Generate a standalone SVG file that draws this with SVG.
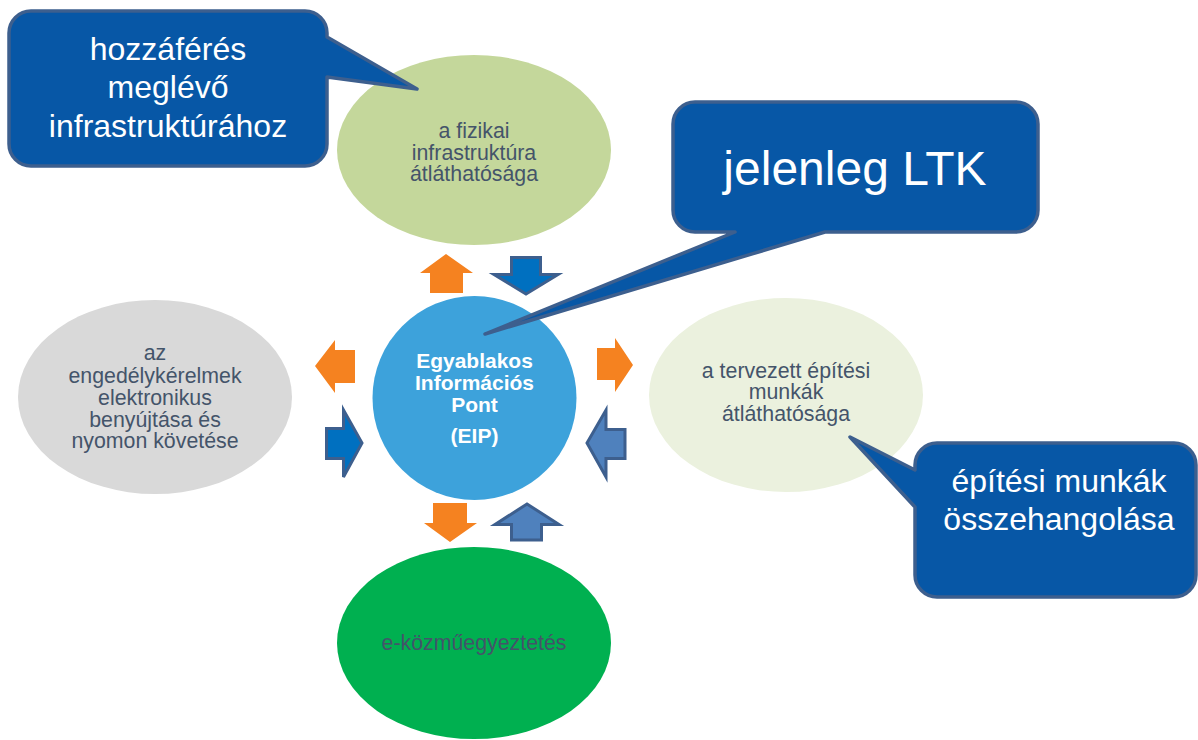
<svg xmlns="http://www.w3.org/2000/svg" width="1198" height="740" viewBox="0 0 1198 740">
  <style>
    text { font-family: "Liberation Sans", Arial, sans-serif; text-anchor: middle; }
    .etxt { font-size: 21.33px; fill: #44546A; }
    .ctxt { font-size: 21px; font-weight: bold; fill: #FFFFFF; }
    .btxt { font-size: 32px; fill: #FFFFFF; }
    .callout { fill: #0757A6; stroke: #3D5F8E; stroke-width: 3.5; stroke-linejoin: round; }
    .orange { fill: #F58220; }
    .dblue { fill: #0070C0; stroke: #3D5F8E; stroke-width: 3; stroke-linejoin: miter; }
    .lblue { fill: #4F81BD; stroke: #3D5F8E; stroke-width: 3; stroke-linejoin: miter; }
  </style>
  <rect width="1198" height="740" fill="#FFFFFF"/>

  <g id="node-top">
    <ellipse cx="474" cy="150" rx="137" ry="95" fill="#C4D79B"/>
    <text class="etxt" x="474" y="138">a fizikai</text>
    <text class="etxt" x="474" y="160">infrastruktúra</text>
    <text class="etxt" x="474" y="181">átláthatósága</text>
  </g>

  <g id="node-left">
    <ellipse cx="155" cy="397" rx="137" ry="97" fill="#D9D9D9"/>
    <text class="etxt" x="155" y="360">az</text>
    <text class="etxt" x="155" y="383">engedélykérelmek</text>
    <text class="etxt" x="155" y="405">elektronikus</text>
    <text class="etxt" x="155" y="427">benyújtása és</text>
    <text class="etxt" x="155" y="448">nyomon követése</text>
  </g>

  <g id="node-right">
    <ellipse cx="786" cy="395" rx="137" ry="97" fill="#EBF1DE"/>
    <text class="etxt" x="786" y="378">a tervezett építési</text>
    <text class="etxt" x="786" y="399">munkák</text>
    <text class="etxt" x="786" y="421">átláthatósága</text>
  </g>

  <g id="node-bottom">
    <ellipse cx="474" cy="643" rx="137" ry="96" fill="#00B050"/>
    <text class="etxt" x="474" y="650">e-közműegyeztetés</text>
  </g>

  <g id="connectors">
    <polygon class="orange" points="446,254 473,273 463,273 463,293 430,293 430,273 420,273"/>
    <polygon class="dblue" points="511.5,257.5 540.5,257.5 540.5,274.5 558,274.5 526,294 494,274.5 511.5,274.5"/>
    <polygon class="orange" points="315,366 335,340 335,350 355,350 355,383 335,383 335,393"/>
    <polygon class="dblue" points="326.5,428.5 343.5,428.5 343.5,410 362,443 343.5,477 343.5,458.5 326.5,458.5"/>
    <polygon class="orange" points="633,365 615,338 615,348 597,348 597,380 615,380 615,392"/>
    <polygon class="lblue" points="587,443 606,410 606,429.5 625,429.5 625,458.5 606,458.5 606,477"/>
    <polygon class="orange" points="433,503 467,503 467,523 477,523 450,542 424,523 433,523"/>
    <polygon class="lblue" points="527,504 559,524.5 541.5,524.5 541.5,540 511.5,540 511.5,524.5 495,524.5"/>
  </g>

  <g id="node-center">
    <circle cx="474.5" cy="398" r="102" fill="#3DA2DB"/>
    <text class="ctxt" x="474.5" y="368">Egyablakos</text>
    <text class="ctxt" x="474.5" y="390">Információs</text>
    <text class="ctxt" x="474.5" y="412">Pont</text>
    <text class="ctxt" x="474.5" y="443">(EIP)</text>
  </g>

  <g id="callout-access">
    <path class="callout" d="M31,11 H305 A22,22 0 0 1 327,33 V37 L417,89 L327,77 V144 A22,22 0 0 1 305,166 H31 A22,22 0 0 1 9,144 V33 A22,22 0 0 1 31,11 Z"/>
    <text class="btxt" x="168" y="60">hozzáférés</text>
    <text class="btxt" x="168" y="98">meglévő</text>
    <text class="btxt" x="168" y="137">infrastruktúrához</text>
  </g>

  <g id="callout-ltk">
    <path class="callout" d="M695,102 H1016 A22,22 0 0 1 1038,124 V210 A22,22 0 0 1 1016,232 H825 L485,334 L735,232 H695 A22,22 0 0 1 673,210 V124 A22,22 0 0 1 695,102 Z"/>
    <text class="btxt" x="855" y="185" style="font-size:48px">jelenleg LTK</text>
  </g>

  <g id="callout-coord">
    <path class="callout" d="M937,443 H1174 A22,22 0 0 1 1196,465 V575 A22,22 0 0 1 1174,597 H937 A22,22 0 0 1 915,575 V507 L850,437 L915,470 V465 A22,22 0 0 1 937,443 Z"/>
    <text class="btxt" x="1059" y="492">építési munkák</text>
    <text class="btxt" x="1059" y="530">összehangolása</text>
  </g>
</svg>
